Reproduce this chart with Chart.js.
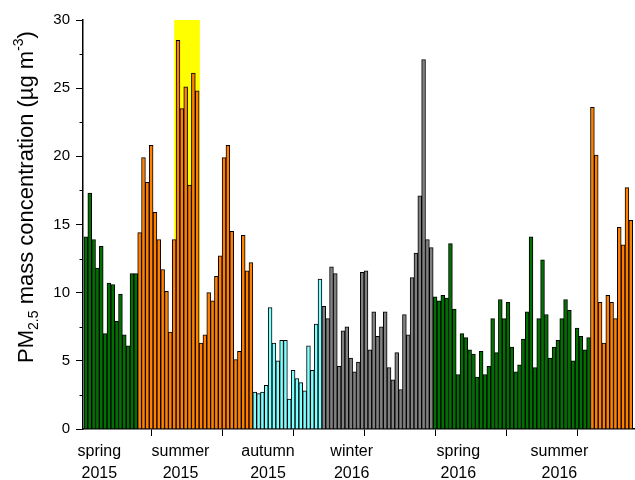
<!DOCTYPE html>
<html lang="en">
<head>
<meta charset="utf-8" />
<title>PM2.5 mass concentration by season</title>
<script src="https://cdn.jsdelivr.net/npm/chart.js@4.4.0/dist/chart.umd.min.js"></script>
<style>
    body { margin: 0; background: #fff; }
    #chart { display: block; }
</style>
</head>
<body>
<canvas id="chart" width="635" height="480"></canvas>
<script>
    // one array of daily values per season, in date order
    const spring2015 = [14.1, 17.3, 13.9, 11.8, 13.4, 7.0, 10.7, 10.6, 7.9, 9.9, 6.9, 6.1, 11.4, 11.4];
    const summer2015 = [14.4, 19.9, 18.1, 20.8, 15.9, 13.9, 11.7, 10.1, 7.1, 13.9, 28.5, 23.5, 25.1, 17.9, 26.1,
                        24.8, 6.3, 6.9, 10.0, 9.4, 11.2, 12.7, 19.9, 20.8, 14.5, 5.1, 5.7, 14.2, 11.6, 12.2];
    const autumn2015 = [2.7, 2.6, 2.7, 3.2, 8.9, 6.3, 5.0, 6.5, 6.5, 2.2, 4.3, 3.7, 3.4, 2.8, 6.1, 4.3, 7.7, 11.0];
    const winter2016 = [9.0, 8.1, 11.9, 11.4, 4.6, 7.2, 7.5, 5.2, 4.2, 4.9, 11.5, 11.6, 5.8, 8.6, 6.8,
                        7.5, 8.6, 4.5, 3.6, 5.6, 2.9, 8.4, 6.9, 11.1, 12.9, 17.1, 27.1, 13.9, 13.3];
    const spring2016 = [9.7, 9.4, 9.8, 9.6, 13.6, 8.8, 4.0, 7.0, 6.7, 5.8, 5.5, 3.8, 5.7, 4.0, 4.6, 8.1, 5.6, 9.5,
                        8.1, 9.3, 6.0, 4.2, 4.7, 6.6, 8.6, 14.1, 4.5, 8.1, 12.4, 8.4, 5.2, 6.0, 6.5, 8.1, 9.5,
                        8.7, 5.0, 7.4, 6.8, 5.8, 6.7];
    const summer2016 = [23.6, 20.1, 9.3, 6.3, 9.8, 9.3, 8.1, 14.8, 13.5, 17.7, 15.3];

    const seasonNames = ['spring 2015', 'summer 2015', 'autumn 2015', 'winter 2016', 'spring 2016', 'summer 2016'];
    const seasonValues = [spring2015, summer2015, autumn2015, winter2016, spring2016, summer2016];
    const seasonColors = ['#007000', '#ff8000', '#80ffff', '#808080', '#007000', '#ff8000'];

    // x axis: tick marks and the season labels (positions in bar index units)
    const tickMarks = [17.14, 35.65, 54.05, 72.55, 91.16, 109.66, 128.17];
    const labelPositions = [3.5, 24.65, 47.45, 69.27, 97.05, 123.4];
    const seasonLabels = [['spring', '2015'], ['summer', '2015'], ['autumn', '2015'],
                          ['winter', '2016'], ['spring', '2016'], ['summer', '2016']];
    const highlightRange = [23.0, 29.7];

    const FONT = "'Liberation Sans', Arial, Helvetica, sans-serif";

    let start = 0;
    const datasets = seasonValues.map((vals, s) => {
        const data = vals.map((v, i) => ({ x: start + i, y: v }));
        start += vals.length;
        return {
            label: seasonNames[s],
            data: data,
            backgroundColor: seasonColors[s],
            borderColor: '#000',
            borderWidth: 1,
            barPercentage: 1,
            categoryPercentage: 1,
            grouped: false,
        };
    });

    const labelIndex = v => labelPositions.findIndex(p => Math.abs(p - v) < 1e-6);

    // yellow box behind the peak days
    const highlight = {
        id: 'highlight',
        beforeDatasetsDraw(chart) {
            const { ctx, scales: { x, y } } = chart;
            const x0 = x.getPixelForValue(highlightRange[0]);
            const x1 = x.getPixelForValue(highlightRange[1]);
            const y0 = y.getPixelForValue(30);
            const y1 = y.getPixelForValue(0);
            ctx.save();
            ctx.fillStyle = '#ffff00';
            ctx.fillRect(x0, y0, x1 - x0, y1 - y0 - 1);
            ctx.restore();
        }
    };

    // minor y ticks + rotated axis title with sub/superscripts
    const axisExtras = {
        id: 'axisExtras',
        afterDraw(chart) {
            const { ctx, scales: { y } } = chart;
            ctx.save();
            ctx.strokeStyle = '#000';
            ctx.lineWidth = 1;
            for (let v = 2.5; v < 30; v += 5) {
                const py = Math.round(y.getPixelForValue(v)) + 0.5;
                ctx.beginPath();
                ctx.moveTo(y.right - 3.5, py);
                ctx.lineTo(y.right, py);
                ctx.stroke();
            }

            const parts = [
                { t: 'PM', size: 22, dy: 0 },
                { t: '2.5', size: 14, dy: 5 },
                { t: ' mass concentration (\u00b5g m', size: 22, dy: 0 },
                { t: '-3', size: 14, dy: -10 },
                { t: ')', size: 22, dy: 0 },
            ];
            let total = 0;
            parts.forEach(p => {
                ctx.font = p.size + 'px ' + FONT;
                p.w = ctx.measureText(p.t).width;
                total += p.w;
            });
            ctx.translate(33, 197);
            ctx.rotate(-Math.PI / 2);
            ctx.fillStyle = '#000';
            ctx.textBaseline = 'alphabetic';
            let px = -total / 2;
            parts.forEach(p => {
                ctx.font = p.size + 'px ' + FONT;
                ctx.fillText(p.t, px, p.dy);
                px += p.w;
            });
            ctx.restore();
        }
    };

    const ctx = document.getElementById('chart').getContext('2d');
    new Chart(ctx, {
        type: 'bar',
        data: { datasets: datasets },
        options: {
            responsive: false,
            animation: false,
            layout: { padding: { top: 20, right: 0, left: 0, bottom: 0 } },
            plugins: {
                legend: { display: false },
                tooltip: { enabled: false },
            },
            scales: {
                x: {
                    type: 'linear',
                    min: -0.76,
                    max: 143.1,
                    offset: false,
                    afterFit(scale) { scale.height = 51; },
                    afterBuildTicks(scale) {
                        scale.ticks = tickMarks.concat(labelPositions)
                            .sort((a, b) => a - b)
                            .map(v => ({ value: v }));
                    },
                    border: { color: '#000', width: 1.5 },
                    grid: {
                        offset: false,
                        drawOnChartArea: false,
                        drawTicks: true,
                        tickLength: 7,
                        tickWidth: 1,
                        tickColor: c => (c.tick && labelIndex(c.tick.value) >= 0) ? 'rgba(0,0,0,0)' : '#000',
                    },
                    ticks: {
                        autoSkip: false,
                        maxRotation: 0,
                        padding: 4,
                        color: '#000',
                        font: { family: FONT, size: 16, lineHeight: 1.4 },
                        callback: v => {
                            const i = labelIndex(v);
                            return i >= 0 ? seasonLabels[i] : '';
                        },
                    },
                },
                y: {
                    min: 0,
                    max: 30,
                    afterFit(scale) { scale.width = 83; },
                    border: { color: '#000', width: 1.5 },
                    grid: {
                        drawOnChartArea: false,
                        tickLength: 7,
                        tickWidth: 1,
                        tickColor: c => (c.tick && c.tick.value % 5 !== 0) ? 'rgba(0,0,0,0)' : '#000',
                    },
                    ticks: {
                        stepSize: 2.5,
                        padding: 6,
                        color: '#000',
                        font: { family: FONT, size: 15 },
                        callback: v => v % 5 === 0 ? v : '',
                    },
                },
            },
        },
        plugins: [highlight, axisExtras],
    });
</script>
</body>
</html>
